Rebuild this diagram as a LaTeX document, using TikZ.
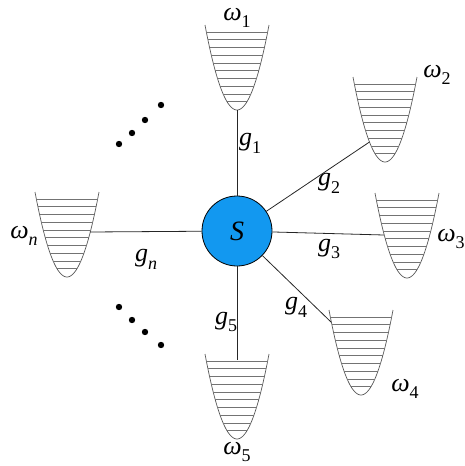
\documentclass[tikz,border=0pt]{standalone}
\usepackage{fontspec}
\setmainfont{Liberation Serif}
\newcommand{\symlab}[2]{{\itshape #1}\raisebox{-0.3em}{\fontsize{18}{18}\selectfont #2}}
\definecolor{sblue}{RGB}{18,152,240}
\tikzset{
  x=1pt, y=-1pt,
  wellc/.style={draw=black!65, line width=0.7pt},
  levelc/.style={draw=black!55, line width=0.6pt},
  conn/.style={draw=black!85, line width=0.8pt},
  lab/.style={inner sep=0pt, font=\fontsize{26}{26}\selectfont},
  dotc/.style={fill=black},
  well/.pic={
    \draw[wellc] plot[domain=-32:32, samples=60, smooth] (\x, {85*(1-(\x/32)^2)});
    \foreach \k in {1,...,10}{
      \pgfmathsetmacro\yy{6.8+7.75*(\k-1)}
      \pgfmathsetmacro\hw{32*sqrt(1-\yy/85)}
      \draw[levelc] (-\hw,\yy) -- (\hw,\yy);
    }
  }
}
\begin{document}
\begin{tikzpicture}
\useasboundingbox (0,0) rectangle (465,466);
% wells
\pic at (237,25) {well};
\pic at (385,77) {well};
\pic at (407,193) {well};
\pic at (361,310) {well};
\pic at (237,354) {well};
\pic at (67,192) {well};
% connection points
\coordinate (c1) at (237,110);
\coordinate (c2) at (369.5,142);
\coordinate (c3) at (384,235);
\coordinate (c4) at (331,322);
\coordinate (c5) at (237,360);
\coordinate (cn) at (90,232);
% system
\node[circle, draw=black, line width=0.8pt, fill=sblue, minimum size=70pt, inner sep=0pt,
      font=\fontsize{28}{28}\selectfont\itshape] (S) at (237,231) {S};
\draw[conn] (S) -- (c1);
\draw[conn] (S) -- (c2);
\draw[conn] (S) -- (c3);
\draw[conn] (S) -- (c4);
\draw[conn] (S) -- (c5);
\draw[conn] (S) -- (cn);
% coupling labels
\node[lab] (g1) at (250,143) {\symlab{g}{1}};
\node[lab] (g2) at (329,183) {\symlab{g}{2}};
\node[lab] (g3) at (329,249) {\symlab{g}{3}};
\node[lab] (g4) at (296,307) {\symlab{g}{4}};
\node[lab] (g5) at (226,322) {\symlab{g}{5}};
\node[lab] (gn) at (146,259) {\symlab{g}{\itshape n}};
% frequency labels
\node[lab] (w1) at (237,18) {\symlab{ω}{1}};
\node[lab] (w2) at (437,75) {\symlab{ω}{2}};
\node[lab] (w3) at (451,239) {\symlab{ω}{3}};
\node[lab] (w4) at (405,389) {\symlab{ω}{4}};
\node[lab] (w5) at (237,452) {\symlab{ω}{5}};
\node[lab] (wn) at (24,236) {\symlab{ω}{\itshape n}};
% dots
\foreach \i/\p in {a/{(119,144)}, b/{(132,133)}, c/{(145,120)}, d/{(161,105)},
                   e/{(119,307)}, f/{(132,320)}, g/{(145,332)}, h/{(161,345)}}{
  \fill[dotc] \p circle (3.2pt);
}
\end{tikzpicture}
\end{document}
